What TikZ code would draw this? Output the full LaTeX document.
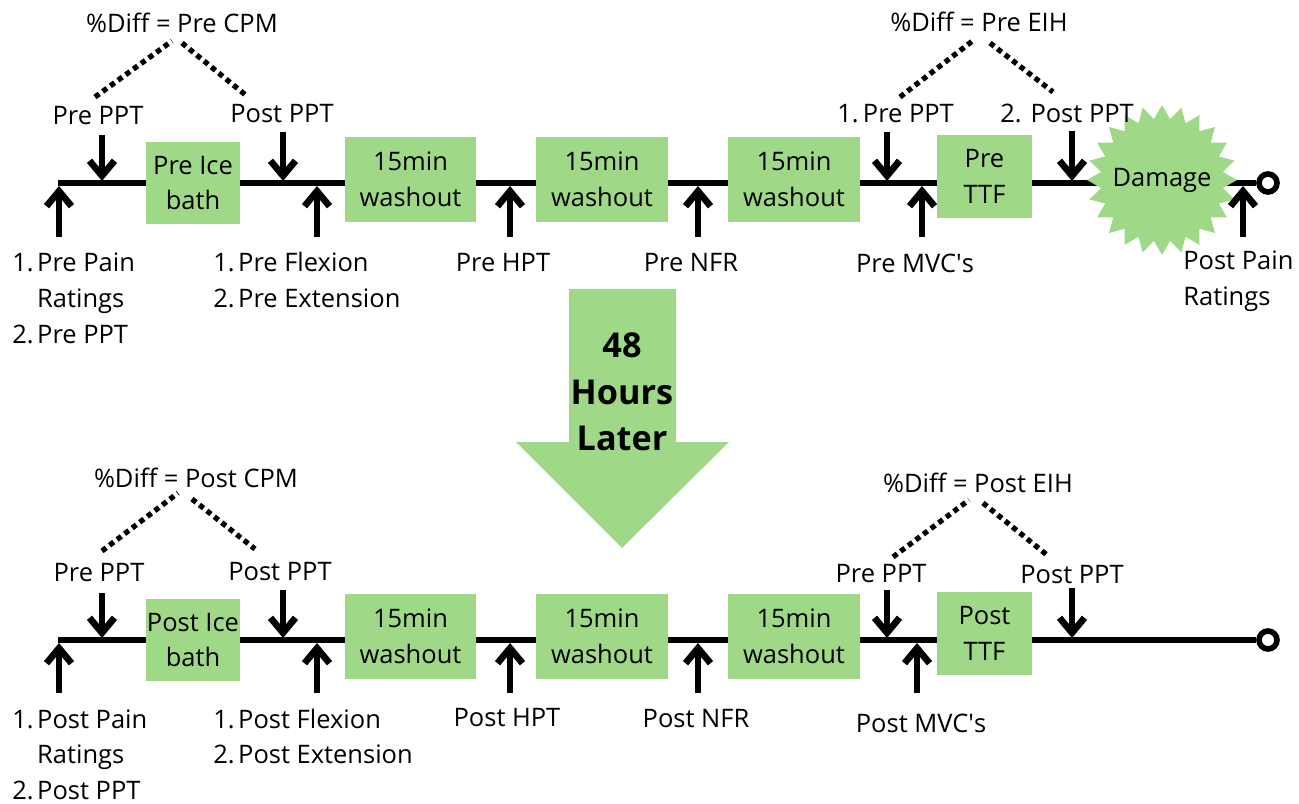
\documentclass[tikz,border=0pt]{standalone}
\usepackage{fontspec}
\setmainfont{Open Sans}
\usetikzlibrary{arrows.meta, shapes.geometric, backgrounds}
\definecolor{boxgreen}{RGB}{159,216,134}
\newcommand{\lblsize}{\fontsize{14.5}{20.4}\selectfont}

\begin{document}
\begin{tikzpicture}[
    x=0.02cm, y=-0.02cm,
    every node/.style={font=\lblsize, inner sep=0pt},
    greenbox/.style={fill=boxgreen, align=center},
    icebox/.style={greenbox, minimum width=1.88cm, minimum height=1.64cm},
    washbox/.style={greenbox, minimum width=2.64cm, minimum height=1.7cm},
    ttfbox/.style={greenbox, minimum width=1.9cm, minimum height=1.66cm},
    timeline/.style={line width=3.2pt},
    pointer/.style={line width=3.8pt, -{Straight Barb[length=3mm, width=5mm]}},
    diffline/.style={line width=3pt, dash pattern=on 3pt off 2.4pt},
    endring/.style={circle, draw, line width=3.2pt, fill=white, minimum size=0.36cm},
]
\useasboundingbox (0,0) rectangle (1299,804);

% ---------------- day 1 (pre) ----------------
\coordinate (pstart) at (58,183);
\node[endring] (pend) at (1268,183) {};
\node[icebox] (pice) at (193,183) {Pre Ice\\bath};
\foreach \x [count=\i] in {410.5,602,794}
    \node[washbox] (pwash\i) at (\x,179.5) {15min\\washout};
\node[ttfbox] (pttf) at (984.5,176.5) {Pre\\TTF};
\node[star, star points=24, star point ratio=1.22, fill=boxgreen, minimum size=3cm] (damage) at (1162,180) {};
\node (damagetxt) at (damage.center) {Damage};
\begin{scope}[on background layer]
\draw[timeline] (pstart) -- (pend);
\end{scope}

% labels above
\node[anchor=base] (pcpm) at (182,33) {\%Diff = Pre CPM};
\node[anchor=base] (peih) at (979,32) {\%Diff = Pre EIH};
\node[anchor=base] (pcpm1) at (98,125) {Pre PPT};
\node[anchor=base] (pcpm2) at (282,123) {Post PPT};
\node[anchor=base west] (peih1) at (837,123) {1.\,Pre PPT};
\node[anchor=base west] (peih2) at (1000,123) {2. Post PPT};
% labels below
\node[anchor=base west] (prate) at (12,272)
    {\begin{tabular}[t]{@{}l@{\hspace{2pt}}l@{}}1. & Pre Pain\\ & Ratings\\ 2. & Pre PPT\end{tabular}};
\node[anchor=base west] (pflex) at (213,272)
    {\begin{tabular}[t]{@{}l@{\hspace{2pt}}l@{}}1. & Pre Flexion\\ 2. & Pre Extension\end{tabular}};
\node[anchor=base] (phpt) at (503,272) {Pre HPT};
\node[anchor=base] (pnfr) at (691,272) {Pre NFR};
\node[anchor=base] (pmvc) at (915,273) {Pre MVC\textquotesingle s};
\node[anchor=base west] (ppain) at (1183,270)
    {\begin{tabular}[t]{@{}l@{}}Post Pain\\Ratings\end{tabular}};

% dotted %Diff brackets
\coordinate (pc1) at (95,97);   \coordinate (pc2) at (172,41);
\coordinate (pc3) at (182,43);  \coordinate (pc4) at (248,97);
\coordinate (pe1) at (900,97);  \coordinate (pe2) at (975,39);
\coordinate (pe3) at (990,43);  \coordinate (pe4) at (1053,92);
\draw[diffline] (pc1) -- (pc2);
\draw[diffline] (pc3) -- (pc4);
\draw[diffline] (pe1) -- (pe2);
\draw[diffline] (pe3) -- (pe4);

% arrows onto the line
\foreach \x/\y [count=\i] in {102/135, 283/132, 887/132, 1072/131} {
    \coordinate (pdn\i) at (\x,\y);
    \coordinate (pdt\i) at (\x,181);
    \draw[pointer] (pdn\i) -- (pdt\i);
}
\foreach \x [count=\i] in {59,317,510,698,922,1243} {
    \coordinate (pup\i) at (\x,237);
    \coordinate (put\i) at (\x,186);
    \draw[pointer] (pup\i) -- (put\i);
}

% ---------------- 48 hours ----------------
\fill[boxgreen] (569,289) -- (676,289) -- (676,442) -- (729,442)
    -- (622,548) -- (516,442) -- (569,442) -- cycle;
\node[font=\fontsize{19.5}{26.6}\selectfont\bfseries, align=center] (later) at (622,392) {48\\Hours\\Later};

% ---------------- day 3 (post) ----------------
\coordinate (qstart) at (58,640);
\node[endring] (qend) at (1268,640) {};
\node[icebox] (qice) at (193,640) {Post Ice\\bath};
\foreach \x [count=\i] in {410.5,602,794}
    \node[washbox] (qwash\i) at (\x,636.5) {15min\\washout};
\node[ttfbox] (qttf) at (984.5,633.5) {Post\\TTF};
\begin{scope}[on background layer]
\draw[timeline] (qstart) -- (qend);
\end{scope}

\node[anchor=base] (qcpm) at (196,487) {\%Diff = Post CPM};
\node[anchor=base] (qeih) at (978,492) {\%Diff = Post EIH};
\node[anchor=base] (qcpm1) at (99,581) {Pre PPT};
\node[anchor=base] (qcpm2) at (280,580) {Post PPT};
\node[anchor=base] (qeih1) at (881,582) {Pre PPT};
\node[anchor=base] (qeih2) at (1072,583) {Post PPT};
\node[anchor=base west] (qrate) at (12,728)
    {\begin{tabular}[t]{@{}l@{\hspace{2pt}}l@{}}1. & Post Pain\\ & Ratings\\ 2. & Post PPT\end{tabular}};
\node[anchor=base west] (qflex) at (213,728)
    {\begin{tabular}[t]{@{}l@{\hspace{2pt}}l@{}}1. & Post Flexion\\ 2. & Post Extension\end{tabular}};
\node[anchor=base] (qhpt) at (507,726) {Post HPT};
\node[anchor=base] (qnfr) at (696,727) {Post NFR};
\node[anchor=base] (qmvc) at (921,732) {Post MVC\textquotesingle s};

\coordinate (qc1) at (102,551); \coordinate (qc2) at (178,493);
\coordinate (qc3) at (192,499); \coordinate (qc4) at (255,549);
\coordinate (qe1) at (893,557); \coordinate (qe2) at (969,500);
\coordinate (qe3) at (983,503); \coordinate (qe4) at (1047,555);
\draw[diffline] (qc1) -- (qc2);
\draw[diffline] (qc3) -- (qc4);
\draw[diffline] (qe1) -- (qe2);
\draw[diffline] (qe3) -- (qe4);

\foreach \x/\y [count=\i] in {102/593, 283/590, 887/590, 1072/588} {
    \coordinate (qdn\i) at (\x,\y);
    \coordinate (qdt\i) at (\x,638);
    \draw[pointer] (qdn\i) -- (qdt\i);
}
\foreach \x [count=\i] in {59,317,510,698,917} {
    \coordinate (qup\i) at (\x,693);
    \coordinate (qut\i) at (\x,643);
    \draw[pointer] (qup\i) -- (qut\i);
}
\end{tikzpicture}
\end{document}
